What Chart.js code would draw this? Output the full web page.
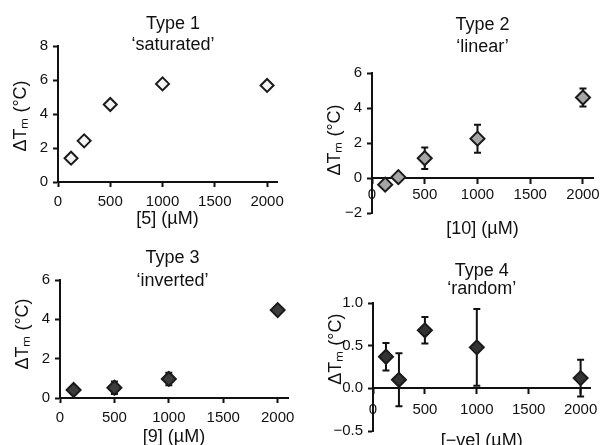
<!DOCTYPE html>
<html>
<head>
<meta charset="utf-8">
<script src="https://cdn.jsdelivr.net/npm/chart.js@4/dist/chart.umd.min.js"></script>
<style>
  html, body { margin: 0; padding: 0; background: #fff; width: 606px; height: 445px; overflow: hidden; }
  canvas { position: absolute; }
</style>
</head>
<body>
<canvas id="c1" width="346" height="240" style="left:0px;top:0px;width:346px;height:240px"></canvas>
<canvas id="c2" width="303" height="240" style="left:303px;top:0px;width:303px;height:240px"></canvas>
<canvas id="c3" width="345" height="223" style="left:0px;top:222px;width:345px;height:223px"></canvas>
<canvas id="c4" width="303" height="223" style="left:303px;top:222px;width:303px;height:223px"></canvas>
<script>
// ---- data ----
const xTicks = [0, 500, 1000, 1500, 2000];

const conc5 = [125, 250, 500, 1000, 2000];
const dTm5 = [1.4, 2.42, 4.56, 5.77, 5.68];
const err5 = [0.08, 0.18, 0.08, 0.08, 0.08];

const conc10 = [125, 250, 500, 1000, 2000];
const dTm10 = [-0.38, 0.05, 1.13, 2.25, 4.6];
const err10 = [0.1, 0.1, 0.62, 0.8, 0.52];

const conc9 = [125, 500, 1000, 2000];
const dTm9 = [0.41, 0.52, 0.97, 4.47];
const err9 = [0.08, 0.32, 0.32, 0.1];

const concNeg = [125, 250, 500, 1000, 2000];
const dTmNeg = [0.37, 0.1, 0.68, 0.48, 0.12];
const errNeg = [0.16, 0.31, 0.155, 0.45, 0.215];

const titles1 = ['Type 1', '\u2018saturated\u2019'];
const titles2 = ['Type 2', '\u2018linear\u2019'];
const titles3 = ['Type 3', '\u2018inverted\u2019'];
const titles4 = ['Type 4', '\u2018random\u2019'];
const xTitle1 = '[5] (\u00B5M)';
const xTitle2 = '[10] (\u00B5M)';
const xTitle3 = '[9] (\u00B5M)';
const xTitle4 = '[\u2212ve] (\u00B5M)';
const yTitle = '\u0394T\u2098 (\u00B0C)';

// ---- styling helpers ----
const FAM = '"Liberation Sans", Arial, Helvetica, sans-serif';
const INK = '#111';
const tickFont = { family: FAM, size: 15 };
const labelFont = { family: FAM, size: 18, lineHeight: 1.2 };

function pts(xs, ys, es) {
  return xs.map((x, i) => ({ x: x, y: ys[i], e: es[i] }));
}
function minusFmt(v) { return v < 0 ? '\u2212' + Math.abs(v) : String(v); }
function minusFmt1(v) { return v < 0 ? '\u2212' + Math.abs(v).toFixed(1) : v.toFixed(1); }

const errorBars = {
  id: 'errorBars',
  beforeDatasetsDraw(chart) {
    const { ctx, scales: { x, y } } = chart;
    ctx.save();
    ctx.strokeStyle = INK;
    ctx.lineWidth = 2;
    chart.data.datasets.forEach(ds => {
      ds.data.forEach(p => {
        const px = x.getPixelForValue(p.x);
        const yt = y.getPixelForValue(p.y + p.e);
        const yb = y.getPixelForValue(p.y - p.e);
        ctx.beginPath();
        ctx.moveTo(px, yt); ctx.lineTo(px, yb);
        ctx.moveTo(px - 3.5, yt); ctx.lineTo(px + 3.5, yt);
        ctx.moveTo(px - 3.5, yb); ctx.lineTo(px + 3.5, yb);
        ctx.stroke();
      });
    });
    ctx.restore();
  }
};

const yTitlePlugin = {
  id: 'yTitle',
  afterDraw(chart, args, o) {
    const { ctx, scales: { y } } = chart;
    const cx = y.right - o.dx;
    const cy = (y.getPixelForValue(o.from) + y.getPixelForValue(o.to)) / 2 + o.dy;
    ctx.save();
    ctx.translate(cx, cy);
    ctx.rotate(-Math.PI / 2);
    ctx.font = '18px ' + FAM;
    ctx.fillStyle = INK;
    ctx.textAlign = 'center';
    ctx.textBaseline = 'middle';
    ctx.fillText(o.text, 0, 0);
    ctx.restore();
  }
};

function makeChart(id, cfg) {
  const axisGrid = { display: true, drawOnChartArea: false, drawTicks: true, tickLength: 5, tickWidth: 2, tickColor: INK };
  const axisBorder = { display: true, color: INK, width: 2 };
  const scales = {
    x: {
      type: 'linear', min: 0, max: 2095,
      position: cfg.xPos,
      afterBuildTicks: s => { s.ticks = xTicks.map(v => ({ value: v })); },
      ticks: { color: INK, font: tickFont, padding: cfg.xTickPad, maxRotation: 0, autoSkip: false, callback: v => String(v) },
      grid: axisGrid,
      border: axisBorder,
      title: { display: true, text: cfg.xTitle, color: INK, font: labelFont, padding: { top: 0, bottom: cfg.xTitlePb } },
      afterFit: s => { s.height = cfg.xH; }
    },
    y: {
      type: 'linear', min: cfg.yMin, max: cfg.yMax,
      position: 'left',
      ticks: { stepSize: cfg.yStep, color: INK, font: tickFont, padding: 5, callback: cfg.yFmt },
      grid: axisGrid,
      border: axisBorder,
      afterFit: s => { s.width = cfg.yW; }
    }
  };
  if (cfg.rightW) {
    scales.yr = {
      type: 'linear', position: 'right', display: true,
      ticks: { display: false }, grid: { display: false }, border: { display: false },
      afterFit: s => { s.width = cfg.rightW; }
    };
  }
  return new Chart(document.getElementById(id), {
    type: 'scatter',
    data: {
      datasets: [{
        data: cfg.data,
        pointStyle: 'rectRot',
        pointRadius: cfg.radius,
        pointHoverRadius: cfg.radius,
        backgroundColor: cfg.fill,
        borderColor: cfg.stroke,
        borderWidth: 2,
        showLine: false
      }]
    },
    options: {
      responsive: false,
      animation: false,
      events: [],
      layout: { padding: cfg.padding },
      plugins: {
        legend: { display: false },
        tooltip: { enabled: false },
        title: {
          display: true,
          text: cfg.titles,
          fullSize: cfg.fullTitle,
          color: INK,
          font: { family: FAM, size: 18, weight: 'normal', lineHeight: cfg.titleLH },
          padding: cfg.titlePad
        },
        yTitle: cfg.yTitle
      },
      scales: scales
    },
    plugins: [errorBars, yTitlePlugin]
  });
}

makeChart('c1', {
  data: pts(conc5, dTm5, err5), radius: 6.5, fill: '#f4f4f4', stroke: '#1a1a1a',
  padding: { left: 0, top: 0, right: 0, bottom: 0 }, rightW: 69,
  titles: titles1, fullTitle: true, titleLH: 21.5 / 18, titlePad: { top: 13.25, bottom: -10.25 },
  xPos: 'bottom', xTitle: xTitle1, xTitlePb: 9.7, xH: 58, xTickPad: 6,
  yMin: 0, yMax: 8, yStep: 2, yFmt: minusFmt, yW: 58,
  yTitle: { text: yTitle, dx: 37, from: 8, to: 0, dy: 2 }
});

makeChart('c2', {
  data: pts(conc10, dTm10, err10), radius: 7, fill: '#a6a6a6', stroke: '#1a1a1a',
  padding: { left: 0, top: 0, right: 13, bottom: 27 },
  titles: titles2, fullTitle: false, titleLH: 22 / 18, titlePad: { top: 14, bottom: 15 },
  xPos: { y: 0 }, xTitle: xTitle2, xTitlePb: 0, xH: 61.8, xTickPad: 3,
  yMin: -2, yMax: 6, yStep: 2, yFmt: minusFmt, yW: 69,
  yTitle: { text: yTitle, dx: 37, from: 6, to: -2, dy: -3 }
});

makeChart('c3', {
  data: pts(conc9, dTm9, err9), radius: 7, fill: '#3c3c3c', stroke: '#1a1a1a',
  padding: { left: 0, top: 0, right: 0, bottom: 0 }, rightW: 57,
  titles: titles3, fullTitle: true, titleLH: 23 / 18, titlePad: { top: 24.5, bottom: -12.5 },
  xPos: 'bottom', xTitle: xTitle3, xTitlePb: -2.8, xH: 47, xTickPad: 6,
  yMin: 0, yMax: 6, yStep: 2, yFmt: minusFmt, yW: 60,
  yTitle: { text: yTitle, dx: 37, from: 6, to: 0, dy: -5 }
});

makeChart('c4', {
  data: pts(concNeg, dTmNeg, errNeg), radius: 7, fill: '#333333', stroke: '#1a1a1a',
  padding: { left: 0, top: 0, right: 12, bottom: 12 },
  titles: titles4, fullTitle: false, titleLH: 1.0, titlePad: { top: 40, bottom: 5 },
  xPos: { y: 0 }, xTitle: xTitle4, xTitlePb: 0, xH: 63.8, xTickPad: 8,
  yMin: -0.5, yMax: 1.0, yStep: 0.5, yFmt: minusFmt1, yW: 70,
  yTitle: { text: yTitle, dx: 37, from: 1.0, to: 0, dy: 3.5 }
});
</script>
</body>
</html>
